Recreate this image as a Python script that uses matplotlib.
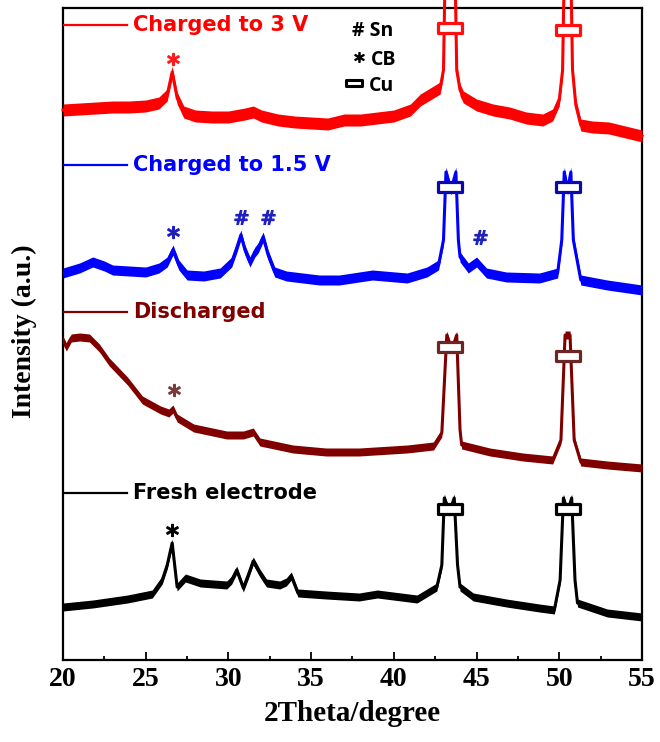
import numpy as np
import matplotlib.pyplot as plt
from matplotlib.path import Path
from matplotlib.markers import MarkerStyle
import matplotlib.patheffects as pe

# XRD patterns: 2theta (degree) vs stacked intensity (a.u.)
fresh_2theta = [20, 21.8, 23.9, 25.4, 26.0, 26.3, 26.6, 26.9, 27.4, 28.3, 29.9, 30.2, 30.5, 30.9, 31.2,
                31.5, 31.9, 32.3, 33.1, 33.5, 33.8, 34.2, 35.9, 37.9, 39.0, 41.4, 42.6, 42.9, 43.05, 43.35,
                43.65, 43.85, 44.0, 44.8, 46.8, 48.8, 49.7, 50.05, 50.25, 50.5, 50.75, 50.95, 51.1, 52.9, 55]
fresh_int = [53, 56, 61, 66, 80, 95, 117, 73, 82, 77, 75, 80, 90, 72, 85,
             99, 87, 77, 75, 78, 84, 67, 65, 63, 66, 61, 73, 95, 162, 148,
             162, 95, 73, 63, 57, 52, 50, 80, 162, 148, 162, 80, 57, 47, 43]

dis_2theta = [20, 20.2, 20.5, 21, 21.6, 22.2, 22.8, 23.9, 24.8, 25.9, 26.4, 26.65, 26.9, 27.9, 29.9,
              30.9, 31.5, 31.9, 33.9, 35.9, 37.9, 40.8, 42.4, 42.9, 43.2, 43.5, 43.8, 44.0, 44.1, 45.8,
              47.8, 49.6, 50.1, 50.35, 50.65, 50.9, 51.3, 52.9, 55]
dis_int = [320, 313, 322, 323, 322, 312, 298, 279, 260, 250, 247, 251, 242, 232, 225,
           225, 228, 218, 211, 208, 208, 211, 214, 227, 325, 310, 325, 230, 215, 208,
           203, 200, 220, 325, 325, 220, 198, 195, 192]

c15_2theta = [20, 21, 21.8, 22.5, 23, 24, 25, 25.8, 26.3, 26.65, 27.0, 27.5, 28.5, 29.5, 30.2,
              30.5, 30.75, 31.0, 31.3, 31.6, 31.8, 32.1, 32.4, 32.8, 33.5, 34.5, 35.5, 36.7, 38.7, 40.8,
              42.0, 42.7, 43.0, 43.15, 43.45, 43.75, 43.9, 44.0, 44.5, 45.0, 45.6, 46.8, 48.8, 49.9, 50.15,
              50.3, 50.5, 50.7, 50.85, 51.3, 52.9, 55]
c15_int = [387, 392, 398, 394, 390, 389, 388, 392, 398, 410, 395, 385, 384, 387, 398,
           412, 425, 410, 398, 408, 412, 423, 405, 388, 384, 382, 380, 380, 385, 382,
           388, 395, 420, 488, 470, 488, 420, 403, 392, 398, 387, 383, 382, 387, 420,
           488, 470, 488, 420, 380, 375, 370]

c3_2theta = [20, 21, 22, 23, 24, 25, 25.8, 26.3, 26.6, 26.9, 27.3, 28, 29, 30, 31,
             31.5, 32, 33, 34, 35, 36, 37, 38, 39, 40, 41, 41.6, 42.4, 42.8, 43.0,
             43.1, 43.7, 43.8, 44.0, 44.2, 45, 46, 47, 48, 49, 49.6, 50.0, 50.2, 50.3, 50.7,
             50.8, 51.0, 51.3, 52, 53, 54, 55]
c3_int = [550, 551, 552, 553, 553, 554, 557, 565, 588, 562, 548, 544, 543, 543, 546,
          548, 544, 540, 538, 537, 536, 540, 540, 542, 544, 550, 560, 568, 572, 590,
          690, 690, 590, 570, 563, 555, 550, 547, 542, 540, 545, 560, 590, 690, 690,
          590, 555, 535, 533, 532, 528, 524]

labels = ['Fresh electrode', 'Discharged', 'Charged to 1.5 V', 'Charged to 3 V']
label_int = [167, 348, 495, 635]

# Cu reflections and the heights of their box symbols on each pattern
cu_2theta = [43.4, 50.5]
cu_mark_int = [[151, 151], [313, 304], [473, 473], [632, 630]]

# carbon black (*) and Sn (#) annotations
cb_2theta = [26.6, 26.7, 26.65, 26.65]
cb_int = [130, 270, 428, 601]
sn_2theta = [30.76, 32.4, 45.2]
sn_int = [443, 443, 423]

colors = ['black', '#800000', '#0000ff', '#ff0000']
box_edge = ['black', '#6b2626', '#0a0aa8', '#ff1010']
sym_colors = ['black', '#7a3a3a', '#1f1fbf', '#ff1a1a']
noise = [4, 4, 5, 6]

fig = plt.figure(figsize=(6.6, 7.42), dpi=100)
ax = fig.add_axes([63 / 660, 82 / 742, 579 / 660, 652 / 742])

patterns = [(fresh_2theta, fresh_int), (dis_2theta, dis_int),
            (c15_2theta, c15_int), (c3_2theta, c3_int)]

box_path = Path([(-1, -0.42), (1, -0.42), (1, 0.42), (-1, 0.42), (-1, -0.42)],
                [Path.MOVETO, Path.LINETO, Path.LINETO, Path.LINETO, Path.CLOSEPOLY])
box = MarkerStyle(box_path, joinstyle='round')
small_path = Path([(-1, -0.32), (1, -0.32), (1, 0.32), (-1, 0.32), (-1, -0.32)],
                  [Path.MOVETO, Path.LINETO, Path.LINETO, Path.LINETO, Path.CLOSEPOLY])
small_box = MarkerStyle(small_path, joinstyle='round')
shadow = [pe.SimplePatchShadow(offset=(1.2, -1.2), shadow_rgbFace='gray', alpha=0.5), pe.Normal()]

for i, (tt, yy) in enumerate(patterns):
    tt = np.array(tt)
    yy = np.array(yy)
    clip = i != 3
    ax.fill_between(tt, yy - noise[i], yy + noise[i], color=colors[i], lw=0, zorder=3, clip_on=clip)
    ax.plot(tt, yy, color=colors[i], lw=2.2, zorder=3, clip_on=clip)
    ax.plot(cu_2theta, cu_mark_int[i], ls='none', marker=box, ms=17.3, mfc='white',
            mec=box_edge[i], mew=2.3, zorder=5, path_effects=shadow)
    ax.plot([20, 23.87], [label_int[i]] * 2, color=colors[i], lw=1.6, zorder=3)
    ax.text(24.25, label_int[i], labels[i], color=colors[i], fontsize=15,
            fontweight='bold', family='DejaVu Sans', va='center', ha='left')
    ax.plot(cb_2theta[i], cb_int[i], ls='none', marker='$*$', ms=8.5, color=sym_colors[i],
            mew=1.1, zorder=5)

ax.plot(sn_2theta, sn_int, ls='none', marker='$\\#$', ms=10, color=sym_colors[2], mew=0.9, zorder=5)

# symbol key
key_font = dict(fontsize=14, fontweight='bold', family='Open Sans', va='center', ha='left', color='black')
ax.text(37.45, 629, '# Sn', **key_font)
ax.plot(37.9, 603, ls='none', marker='$*$', ms=7, color='black', mew=0.9)
ax.text(38.6, 600, 'CB', **key_font)
ax.plot(37.6, 577, ls='none', marker=small_box, ms=12, mfc='white', mec='black', mew=2.2,
        path_effects=shadow)
ax.text(38.5, 574, 'Cu', **key_font)

ax.set_xlim(20, 55)
ax.set_ylim(0, 652)
ax.set_yticks([])
ax.set_xticks(np.arange(20, 56, 5))
ax.set_xticks(np.arange(22.5, 55, 5), minor=True)
ax.tick_params(axis='x', which='major', direction='in', length=6, width=1.3, pad=5)
ax.tick_params(axis='x', which='minor', direction='in', length=3, width=1.3)
for lab in ax.get_xticklabels():
    lab.set_fontfamily('Liberation Serif')
    lab.set_fontweight('bold')
    lab.set_fontsize(20)
for s in ax.spines.values():
    s.set_linewidth(1.6)

ax.set_xlabel('2Theta/degree', fontsize=21, fontweight='bold', family='Liberation Serif', labelpad=6)
fig.text(24 / 660, (742 - 331) / 742, 'Intensity (a.u.)', rotation=90, fontsize=20,
         fontweight='bold', family='Liberation Serif', ha='center', va='center')

fig.savefig('out.png', dpi=100)
